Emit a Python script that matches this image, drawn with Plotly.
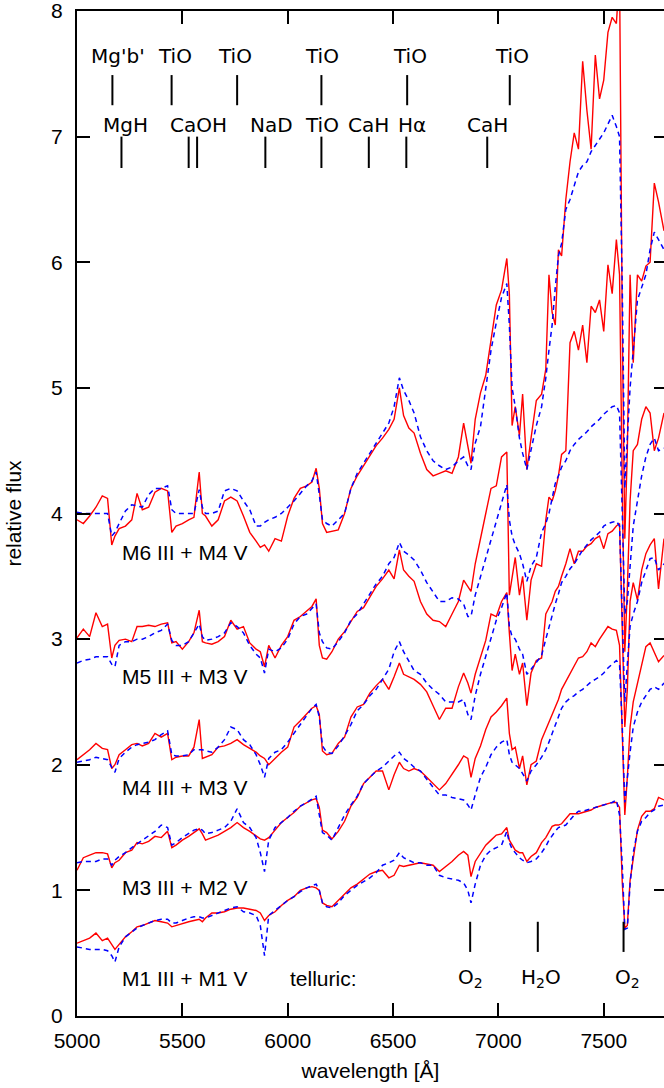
import plotly.graph_objects as go

wavelength = [5000, 5030, 5060, 5090, 5120, 5145, 5165, 5180, 5200, 5230,
              5260, 5285, 5310, 5340, 5370, 5400, 5430, 5450, 5470, 5500,
              5530, 5555, 5580, 5595, 5610, 5640, 5670, 5700, 5730, 5760,
              5790, 5820, 5850, 5870, 5890, 5910, 5940, 5970, 6000, 6030,
              6060, 6090, 6115, 6135, 6150, 6165, 6185, 6210, 6240, 6270,
              6300, 6330, 6360, 6390, 6420, 6450, 6480, 6505, 6530, 6550,
              6575, 6600, 6630, 6660, 6690, 6720, 6750, 6780, 6810, 6835,
              6855, 6870, 6890, 6915, 6940, 6965, 6990, 7015, 7040, 7052,
              7065, 7080, 7100, 7115, 7135, 7155, 7180, 7205, 7225, 7240,
              7255, 7270, 7285, 7300, 7320, 7340, 7360, 7380, 7400, 7420,
              7440, 7460, 7480, 7500, 7520, 7540, 7560, 7575, 7588, 7600,
              7612, 7625, 7640, 7660, 7680, 7700, 7720, 7740, 7760, 7786]

m6_composite = [3.95, 3.92, 3.98, 4.05, 4.14, 4.12, 3.75, 3.82, 3.88, 3.90,
                3.95, 4.16, 4.03, 4.05, 4.17, 4.20, 4.18, 3.85, 3.90, 3.92,
                3.95, 3.97, 4.33, 4.00, 3.98, 3.90, 3.95, 4.10, 4.13, 4.10,
                3.98, 3.85, 3.78, 3.73, 3.75, 3.70, 3.80, 3.78, 3.98, 4.12,
                4.20, 4.22, 4.25, 4.36, 4.20, 3.92, 3.85, 3.86, 3.87, 4.00,
                4.20, 4.30, 4.38, 4.47, 4.54, 4.60, 4.67, 4.75, 5.00, 4.78,
                4.68, 4.64, 4.48, 4.35, 4.30, 4.32, 4.34, 4.32, 4.45, 4.72,
                4.55, 4.40, 4.75, 4.96, 5.10, 5.40, 5.66, 5.78, 6.03, 5.75,
                4.70, 4.85, 4.62, 4.95, 4.35, 4.60, 4.90, 4.95, 5.15, 5.90,
                5.60, 5.50, 6.10, 6.05, 6.50, 6.80, 7.03, 6.90, 7.60, 7.21,
                6.90, 7.65, 7.30, 7.45, 7.83, 7.95, 7.90, 8.30, 5.50, 3.80,
                4.50, 5.90, 5.20, 5.90, 5.85, 5.97, 6.00, 6.63, 6.48, 6.25]
m6_template = [4.01, 4.00, 4.00, 4.00, 4.00, 4.00, 3.82, 3.85, 3.92, 4.02,
               4.07, 4.06, 4.05, 4.15, 4.20, 4.20, 4.22, 4.03, 4.00, 4.00,
               4.00, 4.00, 4.19, 4.05, 4.00, 4.00, 4.02, 4.18, 4.20, 4.18,
               4.10, 4.03, 3.90, 3.90, 3.93, 3.95, 3.97, 4.00, 4.05, 4.10,
               4.16, 4.22, 4.26, 4.33, 4.15, 3.95, 3.92, 3.90, 3.95, 4.00,
               4.20, 4.32, 4.40, 4.48, 4.56, 4.63, 4.72, 4.85, 5.08, 4.98,
               4.90, 4.80, 4.61, 4.50, 4.42, 4.38, 4.35, 4.37, 4.42, 4.45,
               4.38, 4.35, 4.56, 4.69, 5.00, 5.30, 5.52, 5.72, 5.83, 5.50,
               5.00, 4.85, 4.60, 4.48, 4.35, 4.50, 4.70, 4.85, 5.08, 5.30,
               5.50, 5.80, 6.05, 6.15, 6.42, 6.50, 6.62, 6.72, 6.77, 6.80,
               6.88, 6.93, 6.97, 7.03, 7.10, 7.17, 7.08, 7.00, 5.80, 4.20,
               4.60, 5.00, 5.30, 5.70, 5.80, 5.90, 6.10, 6.24, 6.18, 6.10]

m5_composite = [3.01, 3.08, 3.02, 3.21, 3.10, 3.12, 2.85, 2.95, 2.99, 3.00,
                2.98, 3.10, 3.10, 3.11, 3.10, 3.12, 3.13, 2.97, 2.98, 2.92,
                2.98, 3.05, 3.23, 2.98, 2.97, 2.96, 2.98, 3.02, 3.15, 3.08,
                3.10, 2.97, 2.92, 2.90, 2.78, 2.95, 2.85, 2.95, 3.02, 3.15,
                3.18, 3.22, 3.26, 3.32, 2.95, 2.85, 2.84, 2.90, 3.00, 3.06,
                3.14, 3.22, 3.25, 3.33, 3.42, 3.48, 3.55, 3.48, 3.71, 3.55,
                3.50, 3.46, 3.30, 3.20, 3.15, 3.14, 3.10, 3.20, 3.30, 3.47,
                3.42, 3.38, 3.60, 3.81, 4.00, 4.20, 4.22, 4.45, 4.49, 3.35,
                3.50, 3.65, 3.35, 3.50, 3.15, 3.47, 3.60, 3.58, 3.95, 4.13,
                4.10, 4.18, 4.30, 4.47, 4.50, 5.36, 5.45, 5.30, 5.50, 5.20,
                5.65, 5.60, 5.70, 5.45, 5.98, 5.75, 6.18, 5.90, 4.20, 2.90,
                3.40, 4.10, 4.50, 4.55, 4.75, 4.85, 4.80, 4.50, 4.60, 4.80]
m5_template = [2.81, 2.83, 2.84, 2.86, 2.86, 2.86, 2.80, 2.78, 2.95, 2.98,
               2.98, 3.00, 3.00, 3.02, 3.05, 3.07, 3.12, 2.99, 2.95, 2.95,
               2.98, 3.05, 3.12, 3.02, 2.99, 3.00, 3.02, 3.05, 3.13, 3.10,
               3.05, 2.95, 2.88, 2.85, 2.73, 2.92, 2.90, 2.93, 3.00, 3.12,
               3.18, 3.20, 3.24, 3.28, 3.05, 2.98, 2.93, 2.92, 2.98, 3.05,
               3.15, 3.20, 3.28, 3.36, 3.44, 3.50, 3.60, 3.65, 3.77, 3.70,
               3.67, 3.63, 3.55, 3.45, 3.38, 3.30, 3.30, 3.33, 3.32, 3.28,
               3.18, 3.18, 3.35, 3.50, 3.65, 3.78, 3.95, 4.10, 4.23, 3.95,
               3.82, 3.75, 3.68, 3.60, 3.46, 3.58, 3.65, 3.85, 3.92, 4.00,
               4.12, 4.24, 4.30, 4.37, 4.42, 4.50, 4.55, 4.59, 4.62, 4.65,
               4.69, 4.72, 4.75, 4.79, 4.82, 4.85, 4.86, 4.80, 4.00, 3.20,
               3.30, 3.60, 3.90, 4.10, 4.30, 4.45, 4.55, 4.60, 4.50, 4.52]

m4_composite = [2.04, 2.08, 2.12, 2.17, 2.13, 2.12, 1.97, 2.00, 2.08, 2.12,
                2.16, 2.17, 2.15, 2.17, 2.25, 2.22, 2.25, 2.04, 2.06, 2.07,
                2.07, 2.14, 2.36, 2.05, 2.06, 2.08, 2.14, 2.15, 2.17, 2.20,
                2.16, 2.13, 2.10, 2.07, 2.05, 2.00, 2.05, 2.10, 2.14, 2.30,
                2.35, 2.40, 2.45, 2.47, 2.40, 2.11, 2.08, 2.09, 2.17, 2.22,
                2.38, 2.46, 2.48, 2.57, 2.63, 2.68, 2.60, 2.70, 2.81, 2.72,
                2.70, 2.68, 2.64, 2.58, 2.47, 2.36, 2.45, 2.45, 2.62, 2.73,
                2.65, 2.57, 2.72, 2.86, 2.99, 3.20, 3.18, 3.30, 3.37, 3.05,
                2.75, 2.88, 2.72, 2.81, 2.47, 2.73, 2.83, 2.85, 3.20, 3.25,
                3.30, 3.38, 3.42, 3.50, 3.60, 3.72, 3.60, 3.70, 3.70, 3.74,
                3.76, 3.80, 3.82, 3.72, 3.84, 3.86, 3.90, 3.92, 3.00, 2.30,
                2.60, 3.30, 3.45, 3.31, 3.55, 3.68, 3.75, 3.80, 3.40, 3.80]
m4_template = [2.02, 2.03, 2.04, 2.06, 2.05, 2.04, 1.98, 1.94, 2.05, 2.10,
               2.14, 2.16, 2.17, 2.18, 2.20, 2.24, 2.27, 2.08, 2.07, 2.07,
               2.08, 2.12, 2.12, 2.12, 2.11, 2.10, 2.14, 2.20, 2.30, 2.28,
               2.20, 2.16, 2.08, 2.00, 1.90, 2.05, 2.10, 2.12, 2.18, 2.25,
               2.33, 2.40, 2.45, 2.48, 2.38, 2.15, 2.10, 2.09, 2.15, 2.23,
               2.32, 2.43, 2.48, 2.55, 2.60, 2.68, 2.76, 2.90, 2.98, 2.90,
               2.82, 2.75, 2.72, 2.65, 2.60, 2.56, 2.50, 2.50, 2.50, 2.52,
               2.40, 2.36, 2.55, 2.72, 2.86, 3.02, 3.15, 3.25, 3.37, 3.10,
               3.02, 3.00, 2.92, 2.88, 2.72, 2.76, 2.82, 2.87, 3.00, 3.10,
               3.18, 3.28, 3.36, 3.45, 3.50, 3.56, 3.60, 3.66, 3.71, 3.75,
               3.79, 3.82, 3.85, 3.90, 3.92, 3.93, 3.94, 3.90, 3.20, 2.50,
               2.80, 3.10, 3.20, 3.30, 3.45, 3.55, 3.64, 3.65, 3.55, 3.60]

m3_composite = [1.16, 1.26, 1.28, 1.30, 1.30, 1.29, 1.18, 1.22, 1.24, 1.30,
                1.32, 1.38, 1.37, 1.39, 1.43, 1.42, 1.47, 1.34, 1.36, 1.40,
                1.43, 1.46, 1.49, 1.45, 1.40, 1.42, 1.44, 1.47, 1.50, 1.54,
                1.50, 1.47, 1.43, 1.41, 1.40, 1.42, 1.48, 1.54, 1.58, 1.62,
                1.67, 1.70, 1.72, 1.73, 1.66, 1.48, 1.46, 1.41, 1.47, 1.55,
                1.67, 1.74, 1.85, 1.90, 1.95, 1.95, 1.80, 1.92, 2.02, 1.97,
                1.95, 1.97, 1.95, 1.90, 1.85, 1.80, 1.85, 1.92, 2.00, 2.07,
                2.05, 1.90, 2.05, 2.15, 2.28, 2.38, 2.42, 2.47, 2.53, 2.25,
                2.12, 2.14, 1.97, 2.07, 1.84, 2.00, 2.03, 2.20, 2.28, 2.33,
                2.40, 2.45, 2.52, 2.60, 2.66, 2.72, 2.78, 2.85, 2.86, 2.90,
                2.97, 2.94, 3.00, 3.05, 3.10, 3.08, 3.07, 2.95, 2.20, 1.60,
                1.90, 2.30, 2.50, 2.65, 2.80, 2.94, 2.97, 2.90, 2.82, 2.87]
m3_template = [1.22, 1.23, 1.23, 1.23, 1.25, 1.25, 1.20, 1.24, 1.27, 1.30,
               1.34, 1.37, 1.40, 1.43, 1.47, 1.52, 1.50, 1.36, 1.38, 1.42,
               1.45, 1.48, 1.49, 1.48, 1.45, 1.46, 1.48, 1.50, 1.55, 1.65,
               1.54, 1.50, 1.42, 1.30, 1.15, 1.40, 1.50, 1.54, 1.58, 1.63,
               1.67, 1.70, 1.73, 1.75, 1.60, 1.46, 1.44, 1.40, 1.50, 1.60,
               1.68, 1.75, 1.85, 1.90, 1.95, 1.98, 2.03, 2.07, 2.10, 2.05,
               2.02, 1.98, 1.95, 1.88, 1.82, 1.76, 1.76, 1.74, 1.73, 1.72,
               1.68, 1.64, 1.76, 1.90, 1.98, 2.08, 2.14, 2.18, 2.20, 2.08,
               2.02, 2.00, 1.97, 1.93, 1.87, 1.95, 2.00, 2.06, 2.12, 2.18,
               2.25, 2.32, 2.38, 2.45, 2.50, 2.53, 2.55, 2.58, 2.60, 2.63,
               2.66, 2.68, 2.70, 2.73, 2.77, 2.80, 2.83, 2.80, 2.30, 1.70,
               1.90, 2.10, 2.30, 2.42, 2.50, 2.55, 2.60, 2.62, 2.60, 2.65]

m1_composite = [0.58, 0.60, 0.62, 0.66, 0.60, 0.62, 0.57, 0.53, 0.57, 0.63,
                0.67, 0.71, 0.72, 0.74, 0.76, 0.75, 0.74, 0.71, 0.72, 0.74,
                0.75, 0.76, 0.77, 0.75, 0.78, 0.82, 0.82, 0.83, 0.85, 0.86,
                0.86, 0.85, 0.84, 0.82, 0.76, 0.80, 0.83, 0.88, 0.92, 0.95,
                1.00, 1.02, 1.03, 1.02, 1.00, 0.90, 0.88, 0.87, 0.92, 0.97,
                1.02, 1.05, 1.09, 1.13, 1.15, 1.16, 1.10, 1.12, 1.20, 1.19,
                1.20, 1.21, 1.22, 1.21, 1.20, 1.15, 1.19, 1.23, 1.28, 1.31,
                1.28, 1.11, 1.23, 1.30, 1.36, 1.40, 1.44, 1.45, 1.50, 1.40,
                1.36, 1.32, 1.30, 1.30, 1.23, 1.27, 1.30, 1.38, 1.42, 1.47,
                1.51, 1.52, 1.52, 1.53, 1.57, 1.61, 1.61, 1.61, 1.62, 1.63,
                1.64, 1.66, 1.67, 1.68, 1.69, 1.70, 1.70, 1.66, 1.06, 0.70,
                0.72, 1.08, 1.25, 1.48, 1.59, 1.63, 1.63, 1.65, 1.74, 1.72]
m1_template = [0.55, 0.54, 0.53, 0.53, 0.53, 0.52, 0.48, 0.43, 0.55, 0.63,
               0.67, 0.70, 0.72, 0.74, 0.76, 0.77, 0.77, 0.74, 0.74, 0.76,
               0.78, 0.79, 0.79, 0.78, 0.78, 0.80, 0.82, 0.84, 0.86, 0.87,
               0.83, 0.82, 0.80, 0.72, 0.48, 0.80, 0.84, 0.88, 0.92, 0.95,
               0.99, 1.02, 1.04, 1.05, 1.00, 0.90, 0.87, 0.86, 0.90, 0.96,
               1.00, 1.04, 1.07, 1.10, 1.14, 1.20, 1.22, 1.24, 1.30, 1.26,
               1.24, 1.22, 1.22, 1.20, 1.20, 1.12, 1.10, 1.09, 1.08, 1.06,
               1.00, 0.90, 1.05, 1.20, 1.28, 1.32, 1.34, 1.36, 1.47, 1.38,
               1.33, 1.30, 1.26, 1.24, 1.22, 1.23, 1.25, 1.30, 1.35, 1.40,
               1.44, 1.47, 1.50, 1.51, 1.52, 1.56, 1.60, 1.63, 1.63, 1.64,
               1.65, 1.66, 1.67, 1.68, 1.69, 1.70, 1.72, 1.60, 1.20, 0.69,
               0.70, 1.05, 1.30, 1.47, 1.55, 1.58, 1.62, 1.64, 1.67, 1.68]

pair_labels = ["M6 III + M4 V", "M5 III + M3 V", "M4 III + M3 V",
               "M3 III + M2 V", "M1 III + M1 V"]
pair_label_flux = [3.69, 2.70, 1.82, 1.02, 0.30]
pair_label_wavelength = 5203

upper_band_labels = ["Mg'b'", "TiO", "TiO", "TiO", "TiO", "TiO"]
upper_band_label_x = [5194, 5467, 5752, 6164, 6582, 7066]
upper_band_marks = [5168, 5449, 5760, 6160, 6567, 7054]

lower_band_labels = ["MgH", "CaOH", "NaD", "TiO", "CaH", "Hα", "CaH"]
lower_band_label_x = [5230, 5578, 5921, 6164, 6382, 6589, 6949]
lower_band_marks = [5211, 5530, 5570, 5894, 6160, 6385, 6563, 6947]

telluric_labels = ["O<sub>2</sub>", "H<sub>2</sub>O", "O<sub>2</sub>"]
telluric_label_x = [6866, 7203, 7612]
telluric_marks = [6866, 7187, 7594]

x_ticks = [5000, 5500, 6000, 6500, 7000, 7500]
y_ticks = [0, 1, 2, 3, 4, 5, 6, 7, 8]

RED = "#ff0000"
BLUE = "#0000ff"
TXT = "Liberation Sans, Arial, sans-serif"
MOL = "DejaVu Sans, sans-serif"

fig = go.Figure()
pairs = [(m6_composite, m6_template), (m5_composite, m5_template),
         (m4_composite, m4_template), (m3_composite, m3_template),
         (m1_composite, m1_template)]
for comp, tmpl in pairs:
    fig.add_trace(go.Scatter(x=wavelength, y=comp, mode="lines",
                             line=dict(color=RED, width=1.4),
                             showlegend=False, hoverinfo="skip"))
    fig.add_trace(go.Scatter(x=wavelength, y=tmpl, mode="lines",
                             line=dict(color=BLUE, width=1.5, dash="5px,4px"),
                             showlegend=False, hoverinfo="skip"))

# dummy trace for right-hand tick axis
fig.add_trace(go.Scatter(x=[None], y=[None], yaxis="y2", showlegend=False,
                         hoverinfo="skip"))

annotations = []
for t, y in zip(pair_labels, pair_label_flux):
    annotations.append(dict(x=pair_label_wavelength, y=y, text=t, showarrow=False,
                            xanchor="left", yanchor="middle",
                            font=dict(family=TXT, size=21, color="black")))
for t, x in zip(upper_band_labels, upper_band_label_x):
    annotations.append(dict(x=x, y=7.64, text=t, showarrow=False,
                            xanchor="center", yanchor="middle",
                            font=dict(family=MOL, size=20, color="black")))
for t, x in zip(lower_band_labels, lower_band_label_x):
    annotations.append(dict(x=x, y=7.09, text=t, showarrow=False,
                            xanchor="center", yanchor="middle",
                            font=dict(family=MOL, size=20, color="black")))
annotations.append(dict(x=6168, y=0.30, text="telluric:", showarrow=False,
                        xanchor="center", yanchor="middle",
                        font=dict(family=TXT, size=21, color="black")))
for t, x in zip(telluric_labels, telluric_label_x):
    annotations.append(dict(x=x, y=0.30, text=t, showarrow=False,
                            xanchor="center", yanchor="middle",
                            font=dict(family=MOL, size=20, color="black")))

shapes = []
for x in upper_band_marks:
    shapes.append(dict(type="line", x0=x, x1=x, y0=7.25, y1=7.49,
                       line=dict(color="black", width=2)))
for x in lower_band_marks:
    shapes.append(dict(type="line", x0=x, x1=x, y0=6.75, y1=7.0,
                       line=dict(color="black", width=2)))
for x in telluric_marks:
    shapes.append(dict(type="line", x0=x, x1=x, y0=0.51, y1=0.75,
                       line=dict(color="black", width=2)))

fig.update_layout(
    width=664, height=1088,
    margin=dict(l=77, r=0, t=11, b=72),
    paper_bgcolor="white", plot_bgcolor="white",
    annotations=annotations, shapes=shapes,
    xaxis=dict(range=[5000, 7786], tickvals=x_ticks, ticks="inside",
               ticklen=13, tickwidth=2, tickcolor="black",
               showline=True, linecolor="black", linewidth=2, mirror="ticks",
               showgrid=False, zeroline=False, ticklabelstandoff=5,
               tickfont=dict(family=TXT, size=21, color="black"),
               title=dict(text="wavelength [Å]",
                          font=dict(family=TXT, size=21, color="black"),
                          standoff=12)),
    yaxis=dict(range=[0, 8], tickvals=y_ticks, ticks="inside",
               ticklen=13, tickwidth=2, tickcolor="black",
               showline=True, linecolor="black", linewidth=2,
               showgrid=False, zeroline=False, ticklabelstandoff=8,
               ticklabeloverflow="allow",
               tickfont=dict(family=TXT, size=21, color="black"),
               title=dict(text="relative flux",
                          font=dict(family=TXT, size=21, color="black"),
                          standoff=24)),
    yaxis2=dict(range=[0, 8], tickvals=y_ticks, ticks="inside", side="right",
                overlaying="y", ticklen=10, tickwidth=2, tickcolor="black",
                showline=False, showgrid=False, zeroline=False,
                showticklabels=False),
)

fig.write_html("out.html")
